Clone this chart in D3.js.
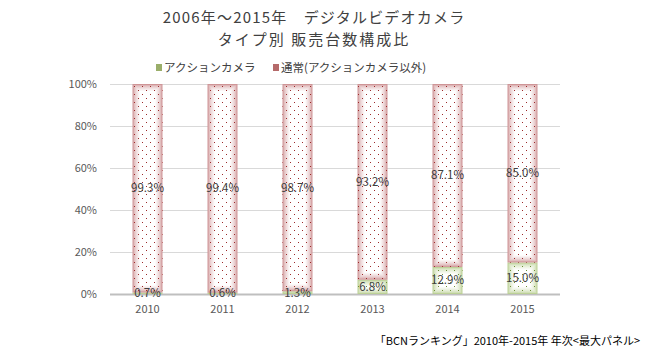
<!DOCTYPE html>
<html>
<head>
<meta charset="utf-8">
<script src="https://cdn.jsdelivr.net/npm/d3@7"></script>
<style>
  body { margin: 0; background: #fff; }
  text { font-family: "Noto Sans CJK JP", "Noto Sans", sans-serif; }
</style>
</head>
<body>
<div id="chart"></div>
<script>
/* 2010-2015 digital video camera type share, stacked 100% bars */

const years = ["2010", "2011", "2012", "2013", "2014", "2015"];
const actionCam = [0.7, 0.6, 1.3, 6.8, 12.9, 15.0];
const normalCam = [99.3, 99.4, 98.7, 93.2, 87.1, 85.0];
const seriesNames = ["アクションカメラ", "通常(アクションカメラ以外)"];
const yTicks = [0, 20, 40, 60, 80, 100];
const titleLines = ["2006年～2015年　デジタルビデオカメラ", "タイプ別 販売台数構成比"];
const sourceText = "「BCNランキング」2010年-2015年 年次<最大パネル>";

const width = 650, height = 354,
      margin = ({top: 84, right: 90, bottom: 60, left: 110});

const svg = d3.select("#chart")
    .append("svg")
    .attr("width", width)
    .attr("height", height);

const styles = [
    {edge: "#bcd196", dot: "#6f8f35", legend: "#9aae6a"},
    {edge: "#cf9597", dot: "#9c2a2a", legend: "#b56a6a"}
];

// dot patterns
const defs = svg.append("defs");
styles.forEach((s, i) => {
    const p = defs.append("pattern")
        .attr("id", "dots" + i)
        .attr("patternUnits", "userSpaceOnUse")
        .attr("width", 8).attr("height", 8);
    p.append("rect").attr("x", 2).attr("y", 2).attr("width", 1).attr("height", 1).attr("fill", s.dot);
    p.append("rect").attr("x", 6).attr("y", 6).attr("width", 1).attr("height", 1).attr("fill", s.dot);
});

const x = d3.scaleBand()
    .domain(years)
    .range([margin.left, width - margin.right])
    .paddingInner(0.6)
    .paddingOuter(0.3);

const y = d3.scaleLinear()
    .domain([0, 100])
    .range([height - margin.bottom, margin.top]);

// gridlines
svg.append("g")
    .selectAll("line")
    .data(yTicks.filter(d => d > 0))
    .join("line")
    .attr("x1", margin.left)
    .attr("x2", width - margin.right)
    .attr("y1", d => y(d) + 0.5)
    .attr("y2", d => y(d) + 0.5)
    .attr("stroke", "#d9d9d9");

// y axis labels
const yAxis = g => g
    .attr("transform", `translate(${margin.left - 10},0)`)
    .call(d3.axisLeft(y).tickValues(yTicks).tickFormat(d => d + "%").tickSize(0))
    .call(g => g.select(".domain").remove())
    .call(g => g.selectAll("text")
        .attr("fill", "#595959")
        .style("font-family", "'Noto Sans CJK JP', sans-serif")
        .style("font-size", "11px"));

svg.append("g").call(yAxis);

// stacked segments
const rows = years.map((yr, i) => ({year: yr, action: actionCam[i], normal: normalCam[i]}));
const stack = d3.stack().keys(["action", "normal"])(rows);

const segs = [];
stack.forEach((layer, si) => {
    layer.forEach(d => segs.push({si, year: d.data.year, y0: d[0], y1: d[1], v: d[1] - d[0]}));
});

// baseline under the bars
svg.append("line")
    .attr("x1", margin.left)
    .attr("x2", width - margin.right)
    .attr("y1", y(0) + 0.5)
    .attr("y2", y(0) + 0.5)
    .attr("stroke", "#bfbfbf")
    .attr("stroke-width", 2);

const bar = svg.append("g")
    .selectAll("g")
    .data(segs)
    .join("g");

// rectangle gradient drawn as nested rects
const steps = d3.range(0, 8);
bar.each(function(d) {
    const g = d3.select(this);
    const bx = x(d.year), bw = x.bandwidth();
    const top = y(d.y1), h = y(d.y0) - y(d.y1);
    const col = d3.interpolateRgb(styles[d.si].edge, "#ffffff");
    steps.forEach(k => {
        const w2 = bw - 2 * k, h2 = h - 2 * k;
        if (w2 <= 0 || h2 <= 0) return;
        g.append("rect")
            .attr("x", bx + k)
            .attr("y", top + k)
            .attr("width", w2)
            .attr("height", h2)
            .attr("fill", col(Math.pow(k / 7, 0.6)));
    });
    g.append("rect")
        .attr("x", bx).attr("y", top)
        .attr("width", bw).attr("height", h)
        .attr("fill", `url(#dots${d.si})`);
});

// value labels on top of everything
svg.append("g")
    .selectAll("text")
    .data(segs)
    .join("text")
    .text(d => d.v.toFixed(1) + "%")
    .attr("x", d => x(d.year) + x.bandwidth() / 2)
    .attr("y", d => y((d.y0 + d.y1) / 2))
    .attr("dy", "0.35em")
    .attr("text-anchor", "middle")
    .attr("fill", "#404040")
    .style("font-size", "11.5px");

// x axis
const xAxis = g => g
    .attr("transform", `translate(0,${y(0) + 8})`)
    .call(d3.axisBottom(x).tickSize(0))
    .call(g => g.select(".domain").remove())
    .call(g => g.selectAll("text")
        .attr("fill", "#595959")
        .style("font-family", "'Noto Sans CJK JP', sans-serif")
        .style("font-size", "11px"));

svg.append("g").call(xAxis);

// title
svg.append("g")
    .selectAll("text")
    .data(titleLines)
    .join("text")
    .text(d => d)
    .attr("x", 314)
    .attr("y", (d, i) => 23 + i * 22)
    .attr("text-anchor", "middle")
    .attr("fill", "#404040")
    .style("font-size", "15px")
    .style("letter-spacing", (d, i) => i === 0 ? "1.2px" : "2px");

// legend
const legendX = [156, 273];
const legend = svg.append("g")
    .selectAll("g")
    .data(seriesNames)
    .join("g")
    .attr("transform", (d, i) => `translate(${legendX[i]},64)`);

legend.append("rect")
    .attr("width", 6).attr("height", 7)
    .attr("fill", (d, i) => styles[i].legend);

legend.append("text")
    .text(d => d)
    .attr("x", 8)
    .attr("y", 4)
    .attr("dy", "0.35em")
    .attr("fill", "#404040")
    .style("font-size", "11.5px");

// source
svg.append("text")
    .text(sourceText)
    .attr("x", 640)
    .attr("y", 345)
    .attr("text-anchor", "end")
    .attr("fill", "#000")
    .style("font-size", "11px");
</script>
</body>
</html>
